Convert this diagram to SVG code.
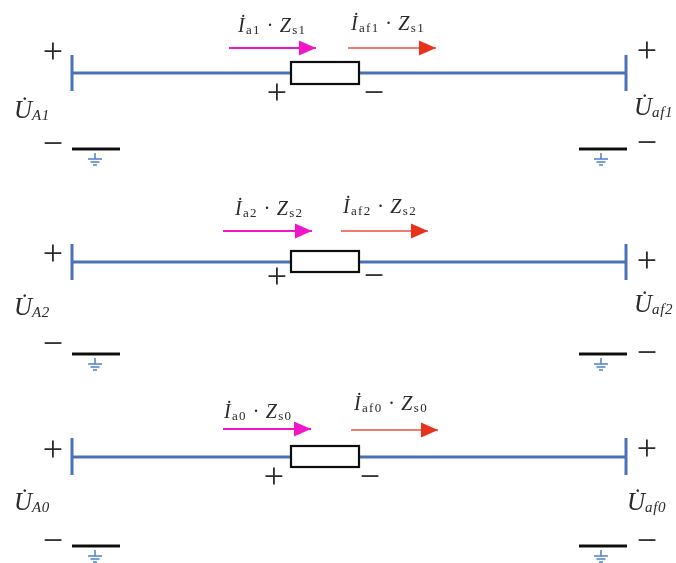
<svg xmlns="http://www.w3.org/2000/svg" width="676" height="563" viewBox="0 0 676 563">
<style>
text{font-family:"Liberation Serif",serif;fill:#2a2a2a}
.sign{font-size:36px;text-anchor:middle}
.drop{font-size:20px;font-style:italic;letter-spacing:1.3px}
.volt{font-size:25px;font-style:italic}
.sub{font-size:13px;font-style:normal}
.vsub{font-size:15px;letter-spacing:.6px}
.bus{stroke:#4a72b8;stroke-width:3;fill:none}
.gnd{stroke:#111;stroke-width:3;fill:none}
.eth{stroke:#4f7fd0;stroke-width:1.5;fill:none}
.box{stroke:#111;stroke-width:2.2;fill:#fff}
.pink{stroke:#f018c8;stroke-width:2;fill:none;marker-end:url(#hp)}
.red{stroke:#e8503c;stroke-width:1.6;fill:none;marker-end:url(#hr)}
</style>
<defs>
<marker id="hp" markerUnits="userSpaceOnUse" markerWidth="18" markerHeight="16" refX="17" refY="8" orient="auto"><path d="M0 0.5L17 8L0 15.5Z" fill="#f018c8"/></marker>
<marker id="hr" markerUnits="userSpaceOnUse" markerWidth="18" markerHeight="16" refX="17" refY="8" orient="auto"><path d="M0 0.5L17 8L0 15.5Z" fill="#e8321e"/></marker>
<filter id="b" x="-5%" y="-5%" width="110%" height="110%"><feGaussianBlur stdDeviation="0.55"/></filter>
<g id="earth"><path class="eth" d="M0 3V9M-7 9H7M-4.500 12H4.500M-2 15H2"/></g>
</defs>
<rect width="676" height="563" fill="#fff"/>
<g filter="url(#b)">
<g id="connectors">
<path class="bus" d="M72 55V91M72 73H291M360 73H626M626 55V91"/>
<path class="bus" d="M72 244V280M72 262H291M360 262H626M626 244V280"/>
<path class="bus" d="M72 438V475M72 457H291M360 457H626M626 438V475"/>
<path class="pink" d="M229 48H316"/><path class="red" d="M348 48H436"/>
<path class="pink" d="M223 231H312"/><path class="red" d="M341 231H428"/>
<path class="pink" d="M223 429H311"/><path class="red" d="M351 430H438"/>
<path class="gnd" d="M72 149H120M579 149H627M72 354H120M579 354H627M72 546H120M579 546H627"/>
</g>
<g id="impedance-1"><rect class="box" x="291" y="62" width="68" height="22"/></g>
<g id="impedance-2"><rect class="box" x="291" y="251" width="68" height="21"/></g>
<g id="impedance-0"><rect class="box" x="291" y="446" width="68" height="21"/></g>
<g id="grounds">
<use href="#earth" x="95" y="150"/><use href="#earth" x="601" y="150"/>
<use href="#earth" x="95" y="355"/><use href="#earth" x="601" y="355"/>
<use href="#earth" x="95" y="547"/><use href="#earth" x="601" y="547"/>
</g>
<g id="sequence-1-labels">
<text class="sign" x="53" y="63">+</text><text class="sign" x="53" y="155">−</text>
<text class="sign" x="277" y="104">+</text><text class="sign" x="374" y="104">−</text>
<text class="sign" x="647" y="62">+</text><text class="sign" x="647" y="154">−</text>
<text class="volt" x="14" y="118">U̇<tspan class="vsub" dy="2">A1</tspan></text>
<text class="volt" x="634" y="115">U̇<tspan class="vsub" dy="2">af1</tspan></text>
<text class="drop" x="238" y="32">İ<tspan class="sub" dy="2">a1</tspan><tspan dy="-2"> · Z</tspan><tspan class="sub" dy="2">s1</tspan></text>
<text class="drop" x="351" y="30">İ<tspan class="sub" dy="2">af1</tspan><tspan dy="-2"> · Z</tspan><tspan class="sub" dy="2">s1</tspan></text>
</g>
<g id="sequence-2-labels">
<text class="sign" x="53" y="265">+</text><text class="sign" x="53" y="355">−</text>
<text class="sign" x="277" y="288">+</text><text class="sign" x="374" y="287">−</text>
<text class="sign" x="647" y="272">+</text><text class="sign" x="647" y="364">−</text>
<text class="volt" x="14" y="315">U̇<tspan class="vsub" dy="2">A2</tspan></text>
<text class="volt" x="634" y="312">U̇<tspan class="vsub" dy="2">af2</tspan></text>
<text class="drop" x="235" y="215">İ<tspan class="sub" dy="2">a2</tspan><tspan dy="-2"> · Z</tspan><tspan class="sub" dy="2">s2</tspan></text>
<text class="drop" x="343" y="213">İ<tspan class="sub" dy="2">af2</tspan><tspan dy="-2"> · Z</tspan><tspan class="sub" dy="2">s2</tspan></text>
</g>
<g id="sequence-0-labels">
<text class="sign" x="53" y="461">+</text><text class="sign" x="53" y="552">−</text>
<text class="sign" x="274" y="488">+</text><text class="sign" x="370" y="488">−</text>
<text class="sign" x="647" y="460">+</text><text class="sign" x="647" y="552">−</text>
<text class="volt" x="14" y="510">U̇<tspan class="vsub" dy="2">A0</tspan></text>
<text class="volt" x="627" y="510">U̇<tspan class="vsub" dy="2">af0</tspan></text>
<text class="drop" x="224" y="418">İ<tspan class="sub" dy="2">a0</tspan><tspan dy="-2"> · Z</tspan><tspan class="sub" dy="2">s0</tspan></text>
<text class="drop" x="354" y="410">İ<tspan class="sub" dy="2">af0</tspan><tspan dy="-2"> · Z</tspan><tspan class="sub" dy="2">s0</tspan></text>
</g>
</g>
</svg>
